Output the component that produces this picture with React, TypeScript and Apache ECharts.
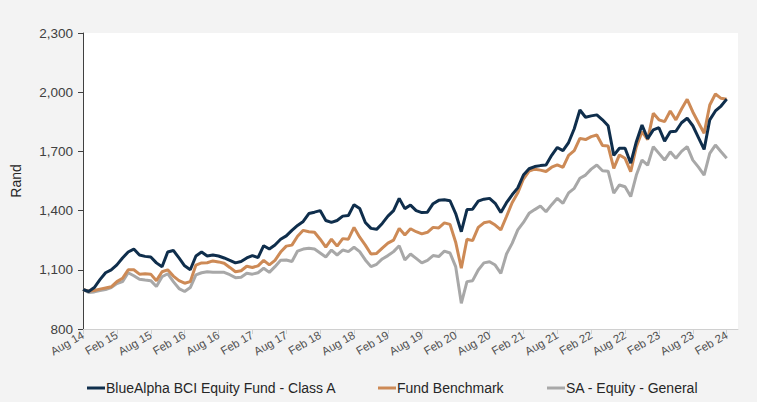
import React, { useEffect, useRef } from "react";
import * as echarts from "echarts";

const monthNames = ["Jan", "Feb", "Mar", "Apr", "May", "Jun", "Jul", "Aug", "Sep", "Oct", "Nov", "Dec"];
// Monthly categories from Aug 14 to Apr 24 (axis runs slightly past the last point)
const categories: string[] = [];
for (let i = 0; i < 117; i++) {
  const m = (7 + i) % 12;
  const y = 14 + Math.floor((7 + i) / 12);
  categories.push(`${monthNames[m]} ${y}`);
}

const yTicks = [800, 1100, 1400, 1700, 2000, 2300];

const fundName = "BlueAlpha BCI Equity Fund - Class A";
const benchName = "Fund Benchmark";
const peerName = "SA - Equity - General";

const fund = [
  1000, 990, 1010, 1050, 1085, 1100, 1125, 1160, 1190, 1205, 1175, 1168, 1165, 1135, 1115, 1190, 1198, 1160, 1120, 1100,
  1170, 1190, 1170, 1175, 1170, 1160, 1148, 1135, 1142, 1160, 1172, 1162, 1222, 1205, 1226, 1255, 1272, 1300, 1325, 1345,
  1385, 1392, 1400, 1350, 1340, 1350, 1372, 1375, 1430, 1411, 1340, 1310, 1305, 1335, 1372, 1400, 1462, 1410, 1428, 1400,
  1390, 1392, 1435, 1452, 1455, 1450, 1385, 1293, 1405, 1407, 1448, 1458, 1462, 1437, 1390, 1440, 1480, 1515, 1580, 1612,
  1623, 1628, 1631, 1680, 1720, 1704, 1745, 1815, 1910, 1873, 1880, 1885, 1860, 1830, 1680, 1716, 1716, 1640, 1749, 1834,
  1765, 1809, 1820, 1752, 1800, 1802, 1845, 1868, 1830, 1770, 1710, 1860, 1905, 1930, 1965,
];

const benchmark = [
  1000, 992, 995, 1002, 1008, 1014, 1040, 1057, 1100, 1100, 1078, 1080, 1078, 1045, 1090, 1100, 1068, 1045, 1032, 1040,
  1124, 1135, 1136, 1145, 1140, 1133, 1112, 1090, 1095, 1118, 1112, 1120, 1148, 1125, 1148, 1190, 1220, 1225, 1270, 1300,
  1293, 1290, 1255, 1215, 1255, 1220, 1258, 1255, 1315, 1265, 1225, 1180, 1183, 1210, 1235, 1250, 1310, 1276, 1308, 1293,
  1282, 1290, 1315, 1312, 1338, 1330, 1240, 1108, 1255, 1248, 1315, 1338, 1344, 1327, 1302, 1370, 1440, 1490, 1560, 1600,
  1610, 1605, 1598, 1620, 1632, 1619, 1680, 1704, 1766, 1760, 1775, 1783, 1730, 1727, 1614, 1682, 1665, 1597, 1724, 1800,
  1760, 1893, 1860, 1851, 1905, 1860, 1915, 1964, 1900, 1845, 1792, 1935, 1991, 1969, 1964,
];

const peers = [
  1000, 985, 988, 995, 1000, 1010, 1030, 1040, 1085, 1070, 1052, 1048, 1045, 1015, 1065, 1080, 1040, 1005, 990, 1010,
  1074, 1085, 1090, 1087, 1087, 1087, 1075, 1060, 1062, 1082, 1078, 1085, 1108, 1087, 1116, 1148, 1150, 1142, 1195, 1205,
  1209, 1205, 1185, 1165, 1200, 1175, 1200, 1192, 1214, 1192, 1150, 1116, 1128, 1155, 1172, 1192, 1222, 1150, 1180, 1158,
  1135, 1148, 1172, 1167, 1195, 1185, 1116, 930, 1040, 1045, 1099, 1135, 1141, 1124, 1082, 1180, 1234, 1302, 1340, 1386,
  1405, 1423, 1394, 1430, 1462, 1437, 1490, 1513, 1564, 1580, 1610, 1631, 1602, 1600, 1488, 1530, 1521, 1471, 1580, 1656,
  1630, 1724, 1690, 1656, 1698, 1665, 1700, 1724, 1656, 1620, 1580, 1690, 1732, 1698, 1665,
];

const NAVY = "#0f2e4c";
const ORANGE = "#cd8a56";
const GRAY = "#a8a8a8";
const FONT = "Liberation Sans, Arial, sans-serif";

export default function App() {
  const ref = useRef<HTMLDivElement>(null);
  useEffect(() => {
    if (!ref.current) return;
    const chart = echarts.init(ref.current, undefined, { renderer: "svg" });
    const legendBase = {
      top: 376,
      icon: "rect",
      itemWidth: 18,
      itemHeight: 3,
      textStyle: { fontSize: 14, color: "#262626", fontFamily: FONT, padding: [0, 0, 0, -4] },
      selectedMode: false as const,
    };
    chart.setOption({
      animation: false,
      backgroundColor: "#f3f3f3",
      textStyle: { fontFamily: FONT },
      grid: {
        left: 83,
        right: 19,
        top: 33,
        bottom: 73,
        show: true,
        backgroundColor: "#ffffff",
        borderWidth: 0,
      },
      legend: [
        { ...legendBase, left: 82, data: [fundName] },
        { ...legendBase, left: 373, data: [benchName] },
        { ...legendBase, left: 542, data: [peerName] },
      ],
      xAxis: {
        type: "category",
        data: categories,
        boundaryGap: false,
        axisLine: { lineStyle: { color: "#d0d0d0", width: 1 } },
        axisTick: { interval: 5, length: 5, lineStyle: { color: "#d0d0d0" } },
        axisLabel: {
          interval: 5,
          rotate: 30,
          fontSize: 11.5,
          color: "#505050",
          fontFamily: FONT,
          margin: 5,
        },
        splitLine: { show: false },
      },
      yAxis: {
        type: "value",
        min: yTicks[0],
        max: yTicks[yTicks.length - 1],
        interval: 300,
        name: "Rand",
        nameLocation: "middle",
        nameGap: 60,
        nameTextStyle: { fontSize: 14, color: "#262626", fontFamily: FONT },
        axisLine: { show: true, lineStyle: { color: "#404040", width: 1 } },
        axisTick: { show: true, length: 5, lineStyle: { color: "#404040" } },
        axisLabel: {
          fontSize: 13.5,
          color: "#404040",
          fontFamily: FONT,
          margin: 10,
          formatter: (v: number) => v.toLocaleString("en-US"),
        },
        splitLine: { show: false },
      },
      series: [
        {
          name: peerName,
          type: "line",
          data: peers,
          showSymbol: false,
          symbol: "none",
          lineStyle: { color: GRAY, width: 3 },
          itemStyle: { color: GRAY },
          z: 2,
        },
        {
          name: benchName,
          type: "line",
          data: benchmark,
          showSymbol: false,
          symbol: "none",
          lineStyle: { color: ORANGE, width: 3 },
          itemStyle: { color: ORANGE },
          z: 3,
        },
        {
          name: fundName,
          type: "line",
          data: fund,
          showSymbol: false,
          symbol: "none",
          lineStyle: { color: NAVY, width: 3 },
          itemStyle: { color: NAVY },
          z: 4,
        },
      ],
    });
    return () => chart.dispose();
  }, []);
  return (
    <div
      ref={ref}
      style={{ position: "absolute", left: 0, top: 0, width: 757, height: 402 }}
    />
  );
}
